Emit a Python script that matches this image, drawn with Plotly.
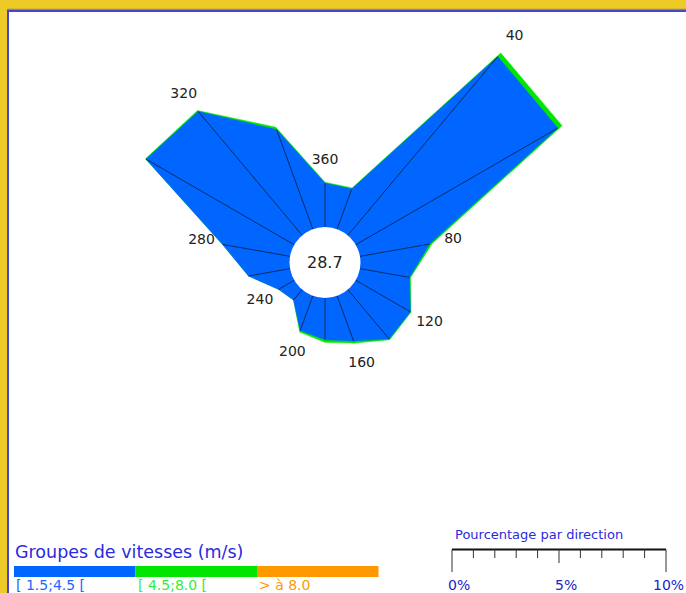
import numpy as np
import plotly.graph_objects as go

# wind rose data, % of observations per 20° direction sector
directions = [20, 40, 60, 80, 100, 120, 140, 160, 180,
              200, 220, 240, 260, 280, 300, 320, 340, 360]
pct_15_45 = [2.0, 10.9, 10.9, 3.3, 2.35, 2.95, 3.0, 2.25, 1.95,
             1.72, 0.63, 0.85, 1.97, 3.2, 8.0, 7.55, 4.95, 2.05]
pct_45_80 = [0.05, 0.22, 0.23, 0.12, 0.05, 0.03, 0.05, 0.1, 0.12,
             0.08, 0.0, 0.0, 0.0, 0.0, 0.03, 0.06, 0.12, 0.04]
pct_80_up = [0.0, 0.0, 0.0, 0.0, 0.0, 0.0, 0.0, 0.0, 0.0,
             0.0, 0.0, 0.0, 0.0, 0.0, 0.0, 0.0, 0.0, 0.0]
calm = 28.7

label_dirs = [40, 80, 120, 160, 200, 240, 280, 320, 360]
class_names = ["[ 1.5;4.5 [", "[ 4.5;8.0 [", "> à 8.0"]
class_colors = ["#0066ff", "#00e600", "#ff9900"]
class_text_colors = ["#1a66ff", "#33ee33", "#ff9900"]
scale_ticks = [0, 5, 10]

W, H = 686, 593
cx, cy = 325, 262.5      # pixel position of the rose centre
ppu = 21.4               # pixels per percent
hole = 35.5 / ppu


def dx(px):
    return (px - cx) / ppu


def dy(py):
    return (cy - py) / ppu


theta = np.radians(directions)
series = [pct_15_45, pct_45_80, pct_80_up]
cum = np.cumsum(np.array(series), axis=0)

fig = go.Figure()

# outermost class first so inner ones paint over it
for k in range(len(series) - 1, -1, -1):
    if sum(series[k]) == 0:
        continue
    r = hole + cum[k]
    x = list(r * np.sin(theta)) + [r[0] * np.sin(theta[0])]
    y = list(r * np.cos(theta)) + [r[0] * np.cos(theta[0])]
    fig.add_trace(go.Scatter(x=x, y=y, mode="lines", fill="toself",
                             fillcolor=class_colors[k],
                             line=dict(color=class_colors[k], width=0.5),
                             hoverinfo="skip", showlegend=False))

# spokes from the calm circle to each vertex
sx, sy = [], []
for t, v in zip(theta, cum[0]):
    sx += [hole * np.sin(t), (hole + v) * np.sin(t), None]
    sy += [hole * np.cos(t), (hole + v) * np.cos(t), None]
fig.add_trace(go.Scatter(x=sx, y=sy, mode="lines",
                         line=dict(color="#0a1830", width=0.75),
                         hoverinfo="skip", showlegend=False))

# direction labels just outside the rose
lx, ly = [], []
for d in label_dirs:
    i = directions.index(d)
    rr = hole + cum[-1][i] + 1.0
    lx.append(rr * np.sin(np.radians(d)))
    ly.append(rr * np.cos(np.radians(d)))
fig.add_trace(go.Scatter(x=lx, y=ly, mode="text", text=[str(d) for d in label_dirs],
                         textfont=dict(family="DejaVu Sans", size=14, color="#222222"),
                         cliponaxis=False, hoverinfo="skip", showlegend=False))

shapes = []
# white panel with blue border on yellow page
shapes.append(dict(type="rect", xref="x", yref="y", layer="below",
                   x0=dx(8), x1=dx(700), y0=dy(610), y1=dy(11),
                   fillcolor="white", line=dict(color="#4646d2", width=2)))
shapes.append(dict(type="line", xref="x", yref="y", layer="below",
                   x0=dx(7), x1=dx(700), y0=dy(9.3), y1=dy(9.3),
                   line=dict(color="#8a7a48", width=1)))
# calm circle
shapes.append(dict(type="circle", xref="x", yref="y", layer="above",
                   x0=-hole, x1=hole, y0=-hole, y1=hole,
                   fillcolor="white", line=dict(width=0)))

annotations = [dict(x=0, y=0, xref="x", yref="y", text=str(calm), showarrow=False,
                    font=dict(family="DejaVu Sans", size=16, color="#222222"))]

# speed class legend
annotations.append(dict(x=dx(13), y=dy(552), xref="x", yref="y", xanchor="left",
                        yanchor="middle", text="Groupes de vitesses (m/s)", showarrow=False,
                        font=dict(family="DejaVu Sans", size=17.5, color="#2a2ae0")))
bw = 121.5
for k, name in enumerate(class_names):
    x0 = 14 + k * bw
    shapes.append(dict(type="rect", xref="x", yref="y", x0=dx(x0), x1=dx(x0 + bw),
                       y0=dy(577), y1=dy(566), fillcolor=class_colors[k], line=dict(width=0)))
    annotations.append(dict(x=dx(x0), y=dy(575), xref="x", yref="y", xanchor="left",
                            yanchor="top", text=name, showarrow=False,
                            font=dict(family="DejaVu Sans", size=14,
                                      color=class_text_colors[k])))

# percentage scale bar, drawn in data units
s0 = dx(452)
annotations.append(dict(x=dx(453), y=dy(534), xref="x", yref="y", xanchor="left",
                        yanchor="middle", text="Pourcentage par direction", showarrow=False,
                        font=dict(family="DejaVu Sans", size=13, color="#2a2ae0")))
shapes.append(dict(type="line", xref="x", yref="y", x0=s0, x1=s0 + 10,
                   y0=dy(549.5), y1=dy(549.5), line=dict(color="#111111", width=2)))
for i in range(11):
    ln = 572 if i in (0, 10) else (563 if i == 5 else 558)
    shapes.append(dict(type="line", xref="x", yref="y", x0=s0 + i, x1=s0 + i,
                       y0=dy(549.5), y1=dy(ln), line=dict(color="#333333", width=1)))
for t in scale_ticks:
    last = t == scale_ticks[-1]
    annotations.append(dict(x=dx(686) if last else s0 + t - 6 / ppu, y=dy(575),
                            xref="x", yref="y", xanchor="right" if last else "left",
                            yanchor="top", text=f"{t}%", showarrow=False,
                            font=dict(family="DejaVu Sans", size=14, color="#2222cc")))

fig.update_layout(
    width=W, height=H,
    margin=dict(l=0, r=0, t=0, b=0, pad=0),
    paper_bgcolor="#eeca26",
    plot_bgcolor="rgba(0,0,0,0)",
    xaxis=dict(range=[dx(0), dx(W)], visible=False, fixedrange=True),
    yaxis=dict(range=[dy(H), dy(0)], visible=False, fixedrange=True),
    shapes=shapes,
    annotations=annotations,
    showlegend=False,
)

# drop the browser's default 8px body margin so the figure fills the window
fig.write_html("out.html", config={"displayModeBar": False},
               post_script="document.body.style.margin='0';document.body.style.overflow='hidden';")
